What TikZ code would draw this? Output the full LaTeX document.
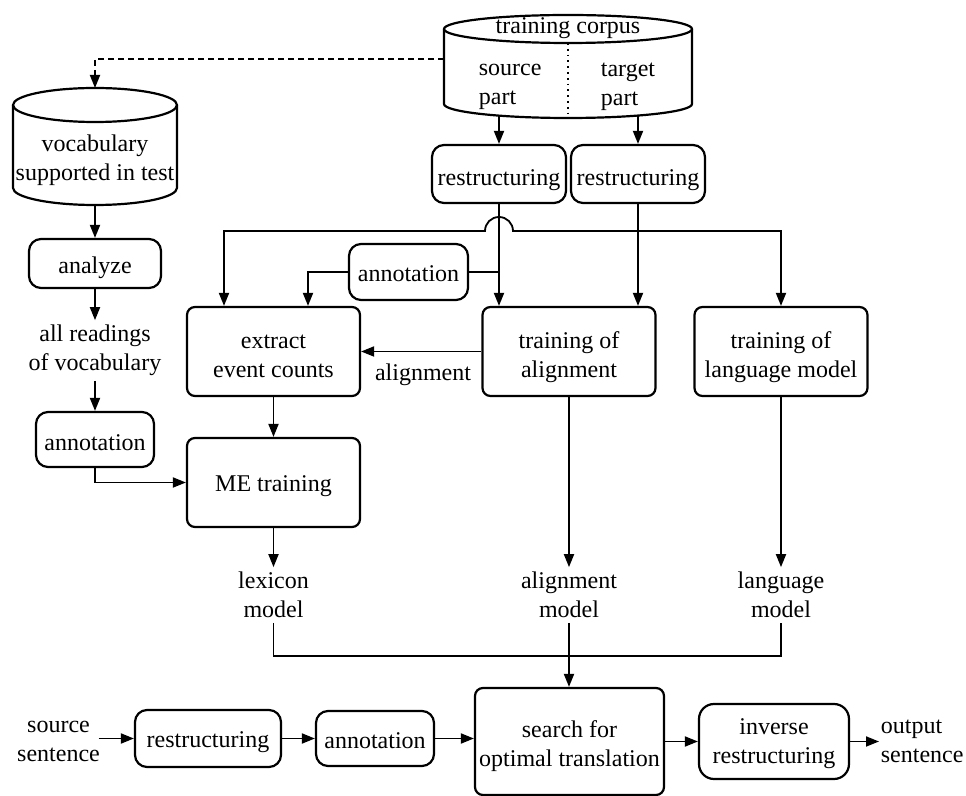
\documentclass[tikz,border=0pt]{standalone}
\usepackage{fontspec}
\setmainfont{Liberation Serif}
\usetikzlibrary{arrows.meta}
\begin{document}
\begin{tikzpicture}[x=0.5pt,y=-0.5pt,
  font=\fontsize{12}{14.5}\selectfont,
  line width=0.9pt,
  arr/.style={-{Triangle[length=6.5pt,width=5pt]}},
  shp/.style={draw, line width=1.1pt},
  pill/.style={draw, line width=1.1pt, rounded corners=6pt, inner sep=0pt},
  bigbox/.style={draw, line width=1.1pt, rounded corners=4pt, inner sep=0pt,
                 minimum width=86.5pt, minimum height=44.5pt},
  lbl/.style={align=center, inner sep=2pt},
  txt/.style={align=center, inner sep=0pt},
]
\useasboundingbox (0,0) rectangle (966,796);

% ---------- cylinders ----------
\draw[shp] (568,29) ellipse [x radius=62pt, y radius=7pt];
\draw[shp] (444,29) -- (444,104) arc[start angle=180, end angle=360, x radius=62pt, y radius=7pt] -- (692,29);
\draw[line width=0.9pt, dotted] (568,43) -- (568,118);
\node[txt] (corpusT) at (568,28) {training corpus};
\node[txt, anchor=west, align=left] (srcPart) at (478,87) {source\\part};
\node[txt, anchor=west, align=left] (tgtPart) at (600,87) {target\\part};
\coordinate (corpusW) at (444,59);
\coordinate (corpusSrc) at (499,116);
\coordinate (corpusTgt) at (638,116);

\draw[shp] (95,105) ellipse [x radius=41pt, y radius=8.5pt];
\draw[shp] (13,105) -- (13,188) arc[start angle=180, end angle=360, x radius=41pt, y radius=8.5pt] -- (177,105);
\node[txt] (vocabT) at (95,160) {vocabulary\\supported in test};
\coordinate (vocabTop) at (95,88);
\coordinate (vocabBot) at (95,205);

% ---------- boxes ----------
\node[pill, minimum width=67pt, minimum height=29pt] (restrA) at (499,174) {};
\node[txt] (restrAT) at (499,180) {restructuring};
\node[pill, minimum width=67pt, minimum height=29pt] (restrB) at (638,174) {};
\node[txt] (restrBT) at (638,180) {restructuring};
\node[pill, minimum width=59.5pt, minimum height=28pt] (annotM) at (408.5,272) {};
\node[txt] (annotMT) at (408.5,274) {annotation};

\node[bigbox] (extract) at (273.5,351.5) {};
\node[txt] (extractT) at (273.5,356.5) {extract\\event counts};
\node[bigbox] (trainAl) at (569,351.5) {};
\node[txt] (trainAlT) at (569,357) {training of\\alignment};
\node[bigbox] (trainLM) at (781,351.5) {};
\node[txt] (trainLMT) at (781,357) {training of\\language model};
\node[bigbox] (ME) at (273.5,482.5) {};
\node[txt] (MET) at (273.5,486.5) {ME training};
\node[txt] (alignLbl) at (423,375) {alignment};

\node[lbl] (lexM) at (273.5,595) {lexicon\\model};
\node[lbl] (alM) at (569,595) {alignment\\model};
\node[lbl] (langM) at (781,595) {language\\model};

\node[pill, minimum width=66pt, minimum height=24.5pt] (analyze) at (95,263.5) {};
\node[txt] (analyzeT) at (95,267.5) {analyze};
\node[lbl] (readings) at (95,350.5) {all readings\\of vocabulary};
\node[pill, minimum width=59pt, minimum height=27.5pt] (annotL) at (95,439.5) {};
\node[txt] (annotLT) at (95,442.5) {annotation};

\node[txt] (srcS) at (58.5,741.5) {source\\sentence};
\node[pill, minimum width=73pt, minimum height=28.5pt] (restrC) at (208,738.5) {};
\node[txt] (restrCT) at (208,742.5) {restructuring};
\node[pill, minimum width=59pt, minimum height=27.5pt] (annotC) at (375,738.5) {};
\node[txt] (annotCT) at (375,740.5) {annotation};
\node[bigbox, minimum width=94.5pt, minimum height=53.5pt] (search) at (569.5,741.5) {};
\node[txt] (searchT) at (569.5,746) {search for\\optimal translation};
\node[pill, rounded corners=7.5pt, minimum width=75pt, minimum height=37.5pt] (inverse) at (774,741.5) {};
\node[txt] (inverseT) at (774,744) {inverse\\restructuring};
\node[txt, anchor=west, align=left] (outS) at (880,741.5) {output\\sentence};

% ---------- connectors ----------
\draw[arr, dash pattern=on 3pt off 2pt] (corpusW) -| (vocabTop);
\draw[arr] (corpusSrc) -- (restrA.north);
\draw[arr] (corpusTgt) -- (restrB.north);

\draw[arr] (restrA.south) -- (trainAl.north -| restrA.south);
\draw[arr] (restrB.south) -- (trainAl.north -| restrB.south);

\coordinate (jct) at (638,231);
\coordinate (bumpR) at (513,231);
\coordinate (xl) at (224,231);
\draw[arr] (jct) -- (bumpR) arc[start angle=0, end angle=180, radius=7pt] -- (xl) -- (xl |- extract.north);
\draw[arr] (jct) -| (trainLM.north);

\coordinate (xa) at (308,272);
\draw (restrA.south |- annotM.east) -- (annotM.east);
\draw[arr] (annotM.west) -- (xa) -- (xa |- extract.north);

\draw[arr] (trainAl.west) -- (extract.east);
\draw[arr] (extract.south) -- (ME.north);
\draw[arr] (ME.south) -- (lexM.north);
\draw[arr] (trainAl.south) -- (alM.north);
\draw[arr] (trainLM.south) -- (langM.north);

\coordinate (hy) at (0,656);
\draw (lexM.south) |- (langM.south |- hy) -- (langM.south);
\draw[arr] (alM.south) -- (search.north -| alM.south);

\draw[arr] (vocabBot) -- (analyze.north);
\draw[arr] (analyze.south) -- (readings.north);
\draw[arr] (readings.south) -- (annotL.north);
\draw[arr] (annotL.south) |- (ME.west);

\draw[arr] ([xshift=-1pt]srcS.east |- restrC.west) -- (restrC.west);
\draw[arr] (restrC.east) -- (annotC.west);
\draw[arr] (annotC.east) -- (annotC.east -| search.west);
\draw[arr] (search.east |- inverse.west) -- (inverse.west);
\draw[arr] (inverse.east) -- ([xshift=-0.5pt]outS.west |- inverse.east);
\end{tikzpicture}
\end{document}
